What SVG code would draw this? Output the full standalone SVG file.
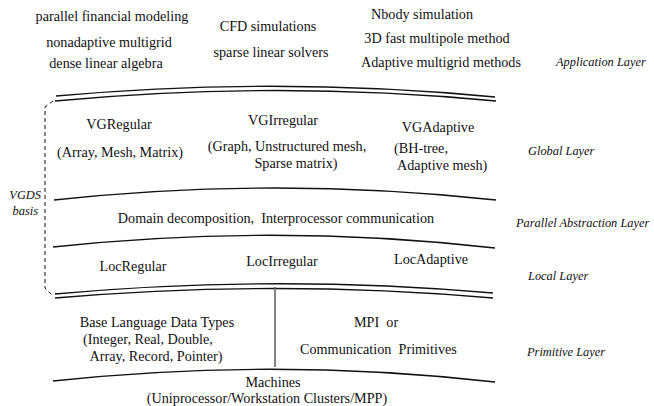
<svg xmlns="http://www.w3.org/2000/svg" width="654" height="406" viewBox="0 0 654 406">
  <style>
    .t { font-family: 'Liberation Serif', 'Times New Roman', serif; font-size: 14.2px; fill: #111; }
    .m { text-anchor: middle; }
    .layer { font-family: 'Liberation Serif', 'Times New Roman', serif; font-size: 12.4px; font-style: italic; fill: #111; }
    .arc { fill: none; stroke: #111; stroke-width: 1.3; }
    .div { fill: none; stroke: #666; stroke-width: 1.6; }
    .dash { fill: none; stroke: #111; stroke-width: 1; stroke-dasharray: 4 3; }
  </style>
  <rect width="654" height="406" fill="#fff"/>

  <!-- layer boundaries -->
  <g id="connectors">
    <path class="arc" d="M56 96 Q276 76 495 97"/>
    <path class="arc" d="M55 101 Q276 80 496 101"/>
    <path class="arc" d="M54 200 Q275 176 496 200"/>
    <path class="arc" d="M53 247 Q275 223 495 248"/>
    <path class="arc" d="M55 294 Q275 274 493 293"/>
    <path class="arc" d="M55 298 Q275 279 493 298"/>
    <path class="arc" d="M53 381 Q275 357 495 382"/>
    <path class="div" d="M275 287 L275 367"/>
    <path class="dash" d="M53 101 L45 107 L45 288 L53 296"/>
  </g>

  <g id="application">
    <text class="t m" x="112" y="21">parallel financial modeling</text>
    <text class="t m" x="109" y="47">nonadaptive multigrid</text>
    <text class="t m" x="106" y="68">dense linear algebra</text>
    <text class="t m" x="268" y="31">CFD simulations</text>
    <text class="t m" x="271" y="57">sparse linear solvers</text>
    <text class="t m" x="422" y="19">Nbody simulation</text>
    <text class="t m" x="437" y="43">3D fast multipole method</text>
    <text class="t m" x="441" y="67">Adaptive multigrid methods</text>
    <text class="layer" x="556" y="66">Application Layer</text>
  </g>

  <g id="global">
    <text class="t m" x="119" y="129">VGRegular</text>
    <text class="t m" x="120" y="157">(Array, Mesh, Matrix)</text>
    <text class="t m" x="283" y="125">VGIrregular</text>
    <text class="t m" x="287" y="151">(Graph, Unstructured mesh,</text>
    <text class="t m" x="296" y="167.5">Sparse matrix)</text>
    <text class="t m" x="438" y="132">VGAdaptive</text>
    <text class="t" x="394" y="153">(BH-tree,</text>
    <text class="t" x="397" y="169.5">Adaptive mesh)</text>
    <text class="layer" x="528" y="155">Global Layer</text>
  </g>

  <g id="vgds">
    <text class="layer" x="41" y="199" text-anchor="end">VGDS</text>
    <text class="layer" x="38" y="215" text-anchor="end">basis</text>
  </g>

  <g id="parallel-abstraction">
    <text class="t m" x="276" y="223" xml:space="preserve">Domain decomposition,  Interprocessor communication</text>
    <text class="layer" x="516" y="227">Parallel Abstraction Layer</text>
  </g>

  <g id="local">
    <text class="t m" x="133" y="271">LocRegular</text>
    <text class="t m" x="282" y="266">LocIrregular</text>
    <text class="t m" x="431" y="264">LocAdaptive</text>
    <text class="layer" x="528" y="280">Local Layer</text>
  </g>

  <g id="primitive">
    <text class="t m" x="157" y="327">Base Language Data Types</text>
    <text class="t m" x="148" y="344">(Integer, Real, Double,</text>
    <text class="t m" x="156" y="361">Array, Record, Pointer)</text>
    <text class="t" x="354" y="327" xml:space="preserve">MPI  or</text>
    <text class="t" x="300" y="354" xml:space="preserve">Communication  Primitives</text>
    <text class="layer" x="527" y="356">Primitive Layer</text>
  </g>

  <g id="machines">
    <text class="t m" x="273" y="386.5">Machines</text>
    <text class="t m" x="267" y="403">(Uniprocessor/Workstation Clusters/MPP)</text>
  </g>
</svg>
